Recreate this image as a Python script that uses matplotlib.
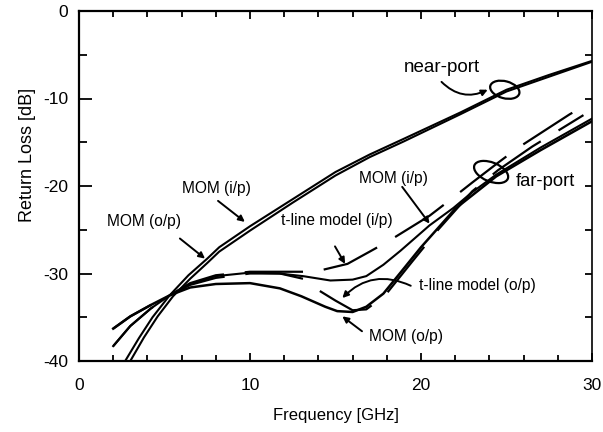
import matplotlib
matplotlib.use("Agg")
import numpy as np
import matplotlib.pyplot as plt
from matplotlib.patches import Ellipse
from matplotlib.transforms import ScaledTranslation

plt.rcParams['font.family'] = ['Liberation Sans', 'DejaVu Sans']
plt.rcParams['lines.scale_dashes'] = False

# ---------------- data ----------------
# near-port curves
near_mom_ip_f = [2.7, 3.5, 4.3, 5.3, 6.4, 7.5, 8.2, 10.0, 12.5, 15.0, 17.0, 19.0, 22.3, 25.0, 27.5, 30.0]
near_mom_ip = [-40.0, -37.4, -35.0, -32.5, -30.2, -28.3, -27.0, -24.6, -21.5, -18.4, -16.4, -14.6, -11.6, -9.0, -7.3, -5.7]
near_mom_op_f = [3.0, 3.8, 4.6, 5.5, 6.5, 7.5, 8.2, 10.0, 12.5, 15.0, 17.0, 19.0, 22.3, 25.0, 27.5, 30.0]
near_mom_op = [-40.0, -37.3, -34.9, -32.6, -30.6, -28.8, -27.5, -25.1, -21.9, -18.8, -16.7, -14.9, -11.8, -9.2, -7.5, -5.8]

# far-port curves
far_mom_ip_f = [2.0, 3.0, 4.2, 5.3, 6.5, 8.0, 10.0, 11.7, 13.1, 14.7, 16.0, 16.8, 17.8, 18.8, 20.5, 21.9, 23.0, 24.4, 27.0, 30.0]
far_mom_ip = [-38.3, -36.0, -34.0, -32.5, -31.2, -30.3, -29.9, -30.0, -30.3, -30.8, -30.7, -30.3, -29.0, -27.4, -24.5, -22.5, -20.7, -18.7, -15.6, -12.3]
far_tline_ip_f = [2.0, 3.0, 4.2, 5.3, 6.5, 8.0, 10.0, 11.7, 13.1, 14.0, 15.7, 17.0, 18.1, 20.5, 21.7, 23.0, 24.6, 25.7, 28.7, 29.6]
far_tline_ip = [-38.3, -36.0, -34.0, -32.5, -31.1, -30.2, -29.8, -29.8, -29.8, -29.7, -28.9, -27.5, -26.3, -23.4, -21.6, -19.6, -17.2, -15.6, -11.8, -10.8]
far_mom_op_f = [2.0, 3.0, 4.2, 5.3, 6.5, 8.0, 10.0, 11.75, 13.0, 13.7, 14.4, 15.1, 16.0, 16.8, 17.8, 18.8, 20.0, 22.0, 24.4, 27.0, 30.0]
far_mom_op = [-36.3, -34.9, -33.6, -32.5, -31.6, -31.2, -31.1, -31.7, -32.6, -33.2, -33.8, -34.3, -34.4, -33.8, -32.3, -29.9, -27.0, -22.6, -18.9, -15.9, -12.6]
far_tline_op_f = [2.0, 3.0, 4.2, 5.3, 6.5, 8.0, 10.0, 11.75, 13.1, 14.0, 15.0, 16.0, 16.8, 17.9, 19.5, 21.0, 23.0, 24.5, 26.5, 29.5]
far_tline_op = [-36.3, -34.9, -33.6, -32.5, -31.3, -30.5, -30.0, -30.0, -30.6, -31.9, -33.1, -34.2, -34.1, -32.5, -28.6, -25.0, -20.6, -18.2, -15.5, -11.9]

# annotations: (text, text position, arrow tail, arrow tip, curvature)
labels = [
    ("MOM (i/p)", (8.05, -20.3), (8.13, -21.7), (9.7, -24.1), 0.0),
    ("MOM (o/p)", (3.8, -24.1), (5.9, -26.0), (7.37, -28.3), 0.0),
    ("t-line model (i/p)", (15.1, -24.0), (14.97, -26.9), (15.56, -28.9), 0.0),
    ("MOM (i/p)", (18.4, -19.2), (18.9, -20.1), (20.5, -24.3), 0.0),
    ("t-line model (o/p)", (23.3, -31.4), (19.4, -31.4), (15.4, -32.8), 0.35),
    ("MOM (o/p)", (19.1, -37.2), (16.55, -36.6), (15.4, -34.9), 0.0),
    ("near-port", (21.2, -6.5), (21.2, -8.1), (23.9, -9.0), 0.35),
]
port_text = ("far-port", (27.3, -19.5))
ellipses = [((24.9, -9.0), 0.30, 0.17, -15), ((24.1, -18.4), 0.36, 0.19, -22)]

xticks_major = [0, 10, 20, 30]
yticks_major = [0, -10, -20, -30, -40]

# ---------------- figure ----------------
fig = plt.figure(figsize=(6.03, 4.32), dpi=100)
ax = fig.add_axes([79 / 603, 1 - 361 / 432, (592 - 79) / 603, (361 - 11) / 432])
ax.set_xlim(0, 30)
ax.set_ylim(-40, 0)

k = 'black'
DASH_ON, DASH_OFF = 42.0, 15.0


def dash_offset(xs, ys, x_gap):
    """offset (points) so that a gap of the dash pattern starts at x = x_gap"""
    xs = np.asarray(xs, float)
    ys = np.asarray(ys, float)
    sel = xs <= x_gap
    px = ax.transData.transform(np.column_stack([xs[sel], ys[sel]]))
    L = np.sum(np.hypot(np.diff(px[:, 0]), np.diff(px[:, 1]))) * 72.0 / fig.dpi
    return (DASH_ON - L) % (DASH_ON + DASH_OFF)


ax.plot(near_mom_ip_f, near_mom_ip, color=k, lw=1.5, solid_capstyle='butt')
ax.plot(near_mom_op_f, near_mom_op, color=k, lw=1.5, solid_capstyle='butt')
ax.plot(far_mom_ip_f, far_mom_ip, color=k, lw=1.5)
ax.plot(far_mom_op_f, far_mom_op, color=k, lw=1.8)
ax.plot(far_tline_ip_f, far_tline_ip, color=k, lw=1.6,
        linestyle=(dash_offset(far_tline_ip_f, far_tline_ip, 13.1), (DASH_ON, DASH_OFF)))
ax.plot(far_tline_op_f, far_tline_op, color=k, lw=1.6,
        linestyle=(dash_offset(far_tline_op_f, far_tline_op, 13.1), (DASH_ON, DASH_OFF)))

for txt, tpos, tail, tip, rad in labels:
    fs = 13.5 if txt == "near-port" else 11.2
    ax.text(tpos[0], tpos[1], txt, ha='center', va='center', fontsize=fs)
    ax.annotate('', xy=tip, xytext=tail,
                arrowprops=dict(arrowstyle='-|>', color=k, lw=1.4, mutation_scale=9,
                                shrinkA=0, shrinkB=0,
                                connectionstyle=f'arc3,rad={rad}'))
ax.text(port_text[1][0], port_text[1][1], port_text[0], ha='center', va='center', fontsize=13.2)

for (cx, cy), w, h, ang in ellipses:
    tr = fig.dpi_scale_trans + ScaledTranslation(cx, cy, ax.transData)
    ax.add_patch(Ellipse((0, 0), w, h, angle=ang, fill=False, ec=k, lw=1.6, transform=tr))

# ticks
ax.set_xticks(xticks_major)
ax.set_xticks(range(0, 31, 2), minor=True)
ax.set_yticks(yticks_major)
ax.set_yticks(range(-40, 1, 5), minor=True)
ax.set_xticklabels([str(v) for v in xticks_major], fontsize=12.5)
ax.set_yticklabels([str(v) for v in yticks_major], fontsize=12.5)
ax.tick_params(axis='x', which='major', direction='in', length=6, width=1.3, pad=12)
ax.tick_params(axis='x', which='minor', direction='in', length=4, width=1.3)
ax.tick_params(axis='y', which='major', direction='in', length=9, width=1.3, pad=8)
ax.tick_params(axis='y', which='minor', direction='in', length=6, width=1.3)

top = ax.secondary_xaxis('top')
top.set_xticks(xticks_major)
top.set_xticks(range(0, 31, 2), minor=True)
top.tick_params(which='major', direction='in', length=6, width=1.3, labeltop=False)
top.tick_params(which='minor', direction='in', length=4, width=1.3)
top.spines['top'].set_linewidth(1.6)
right = ax.secondary_yaxis('right')
right.set_yticks(range(-40, 1, 5))
right.tick_params(which='major', direction='in', length=5, width=1.3, labelright=False)
right.spines['right'].set_linewidth(1.2)

for s in ['left', 'bottom']:
    ax.spines[s].set_linewidth(1.6)
ax.spines['top'].set_visible(False)
ax.spines['right'].set_visible(False)

ax.set_xlabel('Frequency [GHz]', fontsize=12, labelpad=11)
ax.set_ylabel('Return Loss [dB]', fontsize=13)
ax.yaxis.set_label_coords((36 - 79) / 513, (361 - 155) / 350)

fig.savefig('out.png', dpi=100)
